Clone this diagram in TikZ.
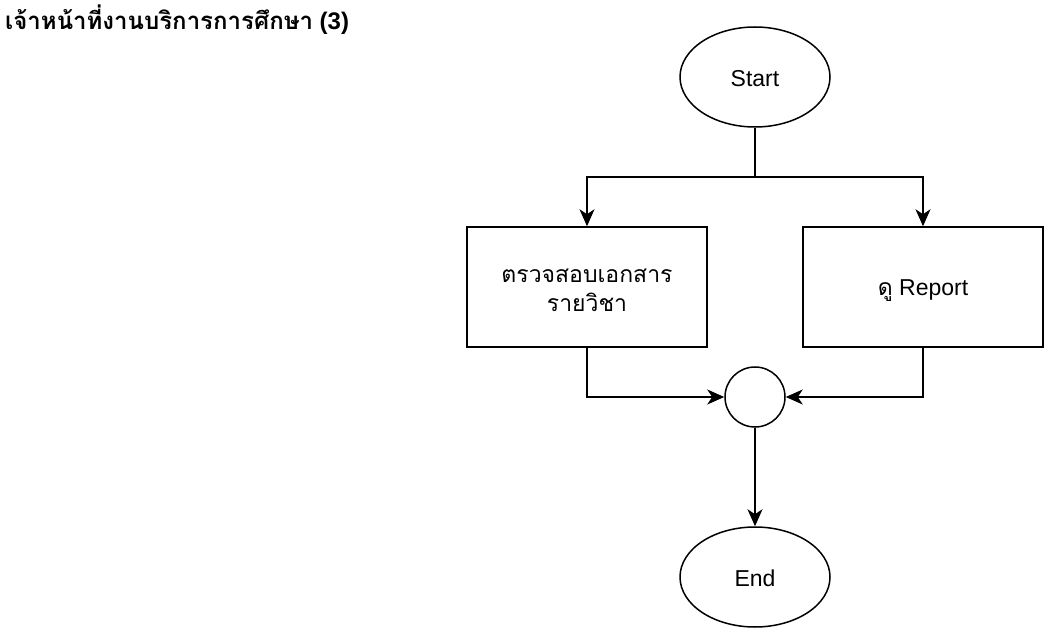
\documentclass[tikz,border=0pt]{standalone}
\usepackage{fontspec}
\setmainfont{Liberation Sans}
\newfontfamily\thai[Script=Thai]{Loma}
\usetikzlibrary{shapes.geometric,arrows.meta}
\begin{document}
\begin{tikzpicture}[x=1pt,y=-1pt,
  shape line/.style={draw=black,line width=1.5pt},
  terminal/.style={shape line,ellipse,minimum width=150pt,minimum height=100pt,inner sep=0pt},
  stepbox/.style={shape line,rectangle,minimum width=240pt,minimum height=120pt,inner sep=0pt},
  joint/.style={shape line,circle,minimum size=60pt,inner sep=0pt},
  label text/.style={inner sep=0pt,align=center,font=\fontsize{23}{29}\selectfont},
  arr/.style={line width=1.7pt,-{Stealth[length=17pt,width=15pt,inset=5pt]}}
]
\useasboundingbox (0,0) rectangle (1044,628);
\node[anchor=west,inner sep=0pt,font=\fontsize{24}{28}\selectfont\bfseries] (title) at (5,20) {{\thai เจ้าหน้าที่งานบริการการศึกษา} (3)};
\node[terminal] (start) at (755,77) {};
\node[label text] (startt) at ([yshift=-2pt]start.center) {Start};
\node[stepbox] (b1) at (587,287) {};
\node[label text] (b1t) at ([yshift=-3pt]b1.center) {\thai ตรวจสอบเอกสาร\\\thai รายวิชา};
\node[stepbox] (b2) at (923,287) {};
\node[label text] (b2t) at ([yshift=-4pt]b2.center) {{\thai ดู} Report};
\node[joint] (j) at (755,397) {};
\node[terminal] (end) at (755,577) {};
\node[label text] (endt) at ([yshift=-1pt]end.center) {End};
\coordinate (split) at (755,177);
\draw[line width=1.7pt] (start.south) -- (split);
\draw[arr] (split) -| (b1.north);
\draw[arr] (split) -| (b2.north);
\draw[arr] (b1.south) |- (j.west);
\draw[arr] (b2.south) |- (j.east);
\draw[arr] (j.south) -- (end.north);
\end{tikzpicture}
\end{document}
